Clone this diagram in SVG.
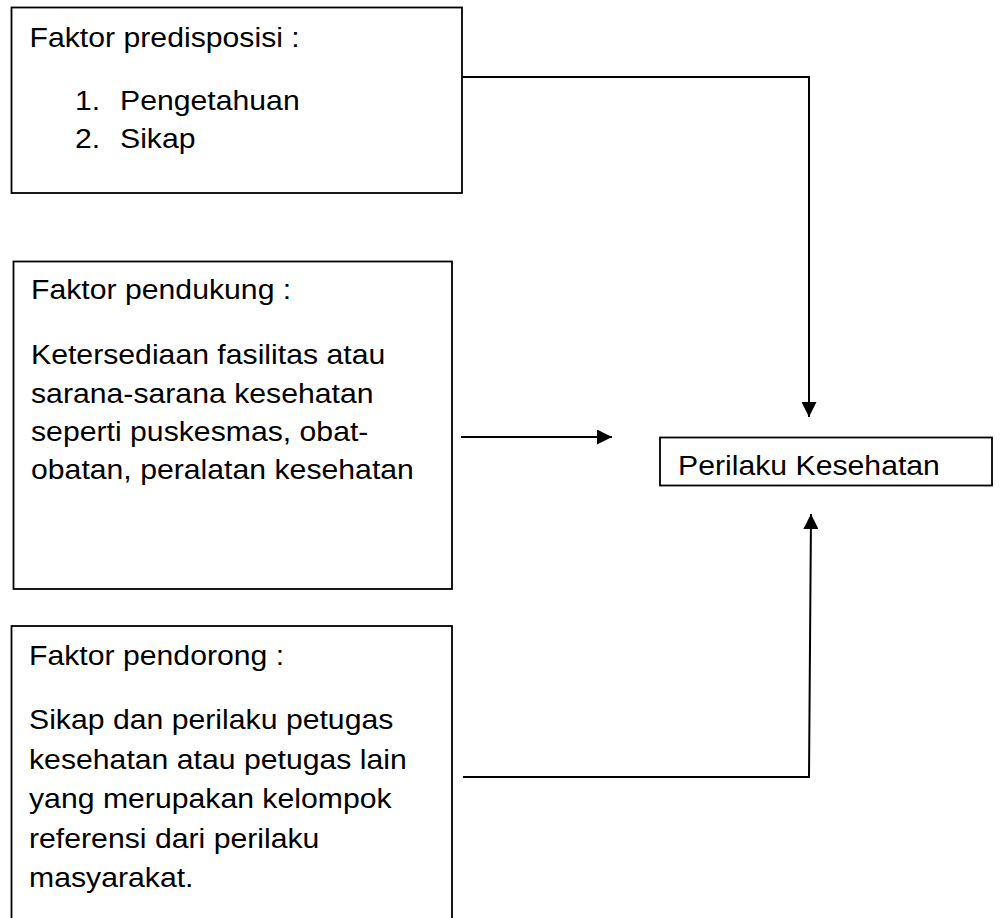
<svg xmlns="http://www.w3.org/2000/svg" width="1000" height="918" viewBox="0 0 1000 918">
<style>
.box{fill:#fff;stroke:#000;stroke-width:1.8}
.t{font-family:"Liberation Sans",Arial,sans-serif;font-size:28.5px;fill:#000}
.c{fill:none;stroke:#000;stroke-width:2}
</style>
<defs>
<marker id="ah" markerUnits="userSpaceOnUse" markerWidth="15" markerHeight="15" refX="15" refY="7.5" orient="auto">
<path d="M0,0 L15,7.5 L0,15 z" fill="#000"/>
</marker>
</defs>
<rect width="1000" height="918" fill="#fff"/>
<g id="predisposisi">
<rect class="box" x="11.5" y="7.5" width="450.5" height="185.5"/>
<text class="t" transform="matrix(1.06,0,0,1,29.5,47)">Faktor predisposisi :</text>
<text class="t" transform="matrix(1.06,0,0,1,75,110)">1.</text>
<text class="t" transform="matrix(1.06,0,0,1,120,110)">Pengetahuan</text>
<text class="t" transform="matrix(1.06,0,0,1,75,148)">2.</text>
<text class="t" transform="matrix(1.06,0,0,1,120,148)">Sikap</text>
</g>
<g id="pendukung">
<rect class="box" x="13.5" y="261.5" width="438.5" height="327.5"/>
<text class="t" transform="matrix(1.06,0,0,1,31,299)">Faktor pendukung :</text>
<text class="t" transform="matrix(1.06,0,0,1,31,364)">Ketersediaan fasilitas atau</text>
<text class="t" transform="matrix(1.06,0,0,1,31,403)">sarana-sarana kesehatan</text>
<text class="t" transform="matrix(1.06,0,0,1,31,441)">seperti puskesmas, obat-</text>
<text class="t" transform="matrix(1.06,0,0,1,31,479)">obatan, peralatan kesehatan</text>
</g>
<g id="pendorong">
<rect class="box" x="11.5" y="626" width="440.5" height="310"/>
<text class="t" transform="matrix(1.06,0,0,1,29,665)">Faktor pendorong :</text>
<text class="t" transform="matrix(1.06,0,0,1,29,729)">Sikap dan perilaku petugas</text>
<text class="t" transform="matrix(1.06,0,0,1,29,769)">kesehatan atau petugas lain</text>
<text class="t" transform="matrix(1.06,0,0,1,29,808)">yang merupakan kelompok</text>
<text class="t" transform="matrix(1.06,0,0,1,29,848)">referensi dari perilaku</text>
<text class="t" transform="matrix(1.06,0,0,1,29,887)">masyarakat.</text>
</g>
<g id="perilaku">
<rect class="box" x="660" y="437.5" width="332" height="48"/>
<text class="t" transform="matrix(1.06,0,0,1,678,475)">Perilaku Kesehatan</text>
</g>
<g id="connectors">
<path class="c" d="M462,77 H809 V417" marker-end="url(#ah)"/>
<path class="c" d="M461,437 H612" marker-end="url(#ah)"/>
<path class="c" d="M463,777 H809 L811,514" marker-end="url(#ah)"/>
</g>
</svg>
